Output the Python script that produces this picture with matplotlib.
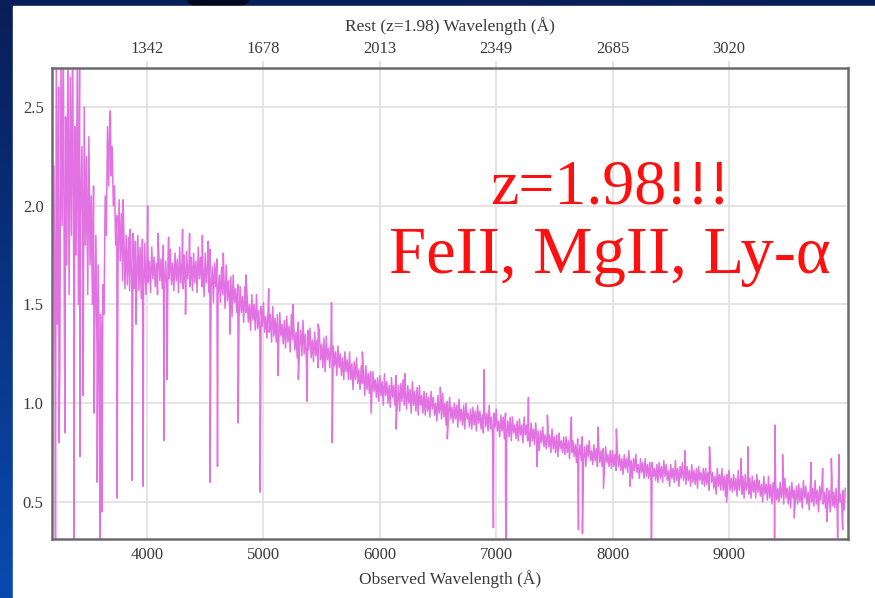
import numpy as np
import matplotlib
matplotlib.use("Agg")
import matplotlib.pyplot as plt
from matplotlib.patches import Rectangle, Ellipse

plt.rcParams["font.family"] = ["Liberation Serif", "DejaVu Serif"]

# ---- spectrum: observed wavelength (A) and flux, sampled every 10 A ----
# blue end (Ly-alpha forest)
wave_blue = np.arange(3200, 3620, 10)
flux_blue = np.array([
    2.20, 1.05, 2.85, 1.40, 2.60, 1.15, 2.75, 1.90, 2.95, 1.30, 2.45, 1.70, 2.80, 1.55,
    2.65, 1.85, 2.90, 1.60, 2.40, 1.75, 2.70, 1.50, 2.85, 1.95, 2.30, 1.65, 2.50, 1.80,
    2.25, 1.55, 2.35, 1.70, 2.05, 1.50, 2.10, 1.35, 1.85, 1.25, 1.70, 1.05, 1.45, 1.20,
])
# noise peaks: pixels at 3620, 3640, ... 10000
wave_peak = np.arange(3620, 10001, 20)
flux_peak = np.array([
    # 3620-3980
    1.60, 2.05, 2.40, 2.47, 2.30, 2.10, 1.95, 2.03, 1.96, 1.88, 1.85, 1.84, 1.80, 1.86, 1.82, 1.85, 1.79, 1.83, 1.81,
    # 4000-4380
    1.76, 1.72, 1.79, 1.74, 1.71, 1.77, 1.73, 1.80, 1.72, 1.75, 1.78, 1.71, 1.76, 1.73, 1.79, 1.72, 1.75, 1.77, 1.71, 1.74,
    # 4400-4780
    1.76, 1.72, 1.79, 1.74, 1.70, 1.76, 1.71, 1.78, 1.69, 1.71, 1.73, 1.65, 1.69, 1.65, 1.70, 1.62, 1.64, 1.65, 1.58, 1.60,
    # 4800-5180
    1.59, 1.54, 1.59, 1.54, 1.50, 1.55, 1.50, 1.55, 1.47, 1.49, 1.51, 1.44, 1.48, 1.45, 1.49, 1.43, 1.45, 1.46, 1.40, 1.42,
    # 5200-5580
    1.44, 1.39, 1.45, 1.40, 1.36, 1.41, 1.37, 1.42, 1.35, 1.37, 1.38, 1.32, 1.36, 1.32, 1.37, 1.30, 1.33, 1.34, 1.28, 1.30,
    # 5600-5980
    1.29, 1.26, 1.29, 1.25, 1.23, 1.26, 1.22, 1.26, 1.20, 1.21, 1.23, 1.17, 1.19, 1.16, 1.19, 1.15, 1.16, 1.16, 1.12, 1.13,
    # 6000-6380
    1.14, 1.11, 1.15, 1.11, 1.09, 1.13, 1.09, 1.14, 1.09, 1.10, 1.12, 1.07, 1.09, 1.07, 1.11, 1.06, 1.08, 1.09, 1.04, 1.06,
    # 6400-6780
    1.05, 1.03, 1.06, 1.03, 1.00, 1.04, 1.01, 1.05, 1.00, 1.01, 1.03, 0.98, 1.00, 0.99, 1.02, 0.97, 0.99, 1.00, 0.95, 0.97,
    # 6800-7180
    0.98, 0.96, 0.99, 0.96, 0.94, 0.97, 0.95, 0.99, 0.93, 0.95, 0.97, 0.91, 0.94, 0.93, 0.95, 0.91, 0.93, 0.93, 0.89, 0.91,
    # 7200-7580
    0.92, 0.89, 0.93, 0.89, 0.87, 0.90, 0.87, 0.90, 0.86, 0.86, 0.88, 0.84, 0.86, 0.84, 0.87, 0.83, 0.84, 0.85, 0.81, 0.83,
    # 7600-7980
    0.83, 0.81, 0.84, 0.81, 0.79, 0.82, 0.79, 0.83, 0.78, 0.79, 0.81, 0.76, 0.79, 0.77, 0.80, 0.76, 0.77, 0.78, 0.74, 0.76,
    # 8000-8380
    0.76, 0.74, 0.76, 0.74, 0.72, 0.74, 0.72, 0.76, 0.71, 0.72, 0.74, 0.69, 0.72, 0.70, 0.72, 0.69, 0.70, 0.70, 0.67, 0.69,
    # 8400-8780
    0.70, 0.68, 0.71, 0.69, 0.66, 0.69, 0.67, 0.71, 0.67, 0.68, 0.70, 0.66, 0.68, 0.66, 0.69, 0.66, 0.67, 0.68, 0.65, 0.67,
    # 8800-9180
    0.67, 0.65, 0.69, 0.65, 0.63, 0.67, 0.64, 0.67, 0.63, 0.64, 0.66, 0.62, 0.64, 0.62, 0.66, 0.62, 0.63, 0.64, 0.60, 0.62,
    # 9200-9580
    0.63, 0.61, 0.64, 0.61, 0.59, 0.63, 0.59, 0.63, 0.59, 0.60, 0.61, 0.57, 0.60, 0.58, 0.62, 0.57, 0.58, 0.60, 0.56, 0.58,
    # 9600-10000
    0.59, 0.57, 0.61, 0.58, 0.55, 0.59, 0.57, 0.61, 0.56, 0.58, 0.60, 0.55, 0.57, 0.56, 0.59, 0.55, 0.57, 0.58, 0.54, 0.56, 0.57,
])
# noise troughs: pixels at 3630, 3650, ... 9990
wave_trough = np.arange(3630, 10000, 20)
flux_trough = np.array([
    # 3630-3990
    1.45, 1.85, 2.10, 2.15, 2.00, 1.80, 1.68, 1.72, 1.62, 1.58, 1.60, 1.57, 1.55, 1.58, 1.54, 1.57, 1.53, 1.56, 1.55,
    # 4010-4390
    1.61, 1.56, 1.63, 1.59, 1.55, 1.62, 1.58, 1.60, 1.54, 1.63, 1.60, 1.57, 1.62, 1.56, 1.61, 1.58, 1.55, 1.63, 1.59, 1.57,
    # 4410-4790
    1.61, 1.56, 1.63, 1.59, 1.54, 1.61, 1.56, 1.58, 1.51, 1.59, 1.55, 1.51, 1.55, 1.48, 1.52, 1.48, 1.44, 1.51, 1.46, 1.43,
    # 4810-5190
    1.46, 1.41, 1.46, 1.41, 1.37, 1.42, 1.37, 1.38, 1.32, 1.39, 1.36, 1.33, 1.36, 1.31, 1.34, 1.31, 1.28, 1.34, 1.30, 1.28,
    # 5210-5590
    1.31, 1.26, 1.32, 1.27, 1.23, 1.29, 1.24, 1.25, 1.20, 1.27, 1.23, 1.21, 1.24, 1.18, 1.22, 1.18, 1.16, 1.22, 1.18, 1.16,
    # 5610-5990
    1.19, 1.14, 1.18, 1.14, 1.12, 1.16, 1.12, 1.12, 1.07, 1.12, 1.10, 1.07, 1.10, 1.04, 1.07, 1.05, 1.02, 1.06, 1.03, 1.01,
    # 6010-6390
    1.04, 0.99, 1.04, 1.00, 0.98, 1.03, 0.99, 1.00, 0.96, 1.01, 0.99, 0.97, 1.00, 0.95, 0.99, 0.96, 0.94, 0.99, 0.95, 0.94,
    # 6410-6790
    0.96, 0.93, 0.97, 0.94, 0.91, 0.95, 0.92, 0.93, 0.89, 0.94, 0.92, 0.90, 0.92, 0.88, 0.91, 0.89, 0.87, 0.92, 0.88, 0.87,
    # 6810-7190
    0.89, 0.86, 0.90, 0.87, 0.85, 0.88, 0.86, 0.87, 0.82, 0.88, 0.86, 0.83, 0.86, 0.82, 0.84, 0.83, 0.81, 0.85, 0.82, 0.81,
    # 7210-7590
    0.84, 0.80, 0.84, 0.81, 0.78, 0.81, 0.79, 0.79, 0.76, 0.80, 0.78, 0.77, 0.78, 0.75, 0.77, 0.75, 0.73, 0.77, 0.75, 0.74,
    # 7610-7990
    0.75, 0.72, 0.75, 0.73, 0.70, 0.73, 0.71, 0.72, 0.68, 0.73, 0.71, 0.69, 0.71, 0.68, 0.70, 0.68, 0.66, 0.70, 0.68, 0.67,
    # 8010-8390
    0.68, 0.66, 0.68, 0.66, 0.64, 0.67, 0.65, 0.66, 0.62, 0.66, 0.65, 0.62, 0.65, 0.62, 0.63, 0.62, 0.60, 0.63, 0.61, 0.60,
    # 8410-8790
    0.62, 0.60, 0.63, 0.61, 0.58, 0.62, 0.60, 0.61, 0.58, 0.62, 0.61, 0.59, 0.61, 0.58, 0.60, 0.59, 0.57, 0.61, 0.59, 0.58,
    # 8810-9190
    0.59, 0.56, 0.60, 0.57, 0.54, 0.58, 0.56, 0.56, 0.53, 0.58, 0.56, 0.55, 0.56, 0.53, 0.56, 0.54, 0.52, 0.56, 0.54, 0.52,
    # 9210-9590
    0.55, 0.52, 0.55, 0.53, 0.50, 0.54, 0.51, 0.52, 0.49, 0.54, 0.51, 0.50, 0.52, 0.49, 0.52, 0.49, 0.47, 0.52, 0.50, 0.49,
    # 9610-9990
    0.50, 0.47, 0.52, 0.49, 0.46, 0.50, 0.48, 0.49, 0.45, 0.51, 0.49, 0.47, 0.49, 0.45, 0.48, 0.47, 0.45, 0.50, 0.47, 0.46,
])

# narrow absorption features
dip_wave = [3213, 3243, 3295, 3372, 3424, 3450, 3545, 3572, 3598, 3612, 3742, 3871, 3905, 3966,
            4146, 4172, 4330, 4542, 4605, 4710, 4783, 4972, 5127, 5300, 5376, 5591, 5925, 6140,
            6580, 6976, 7080, 7087, 7350, 7707, 7741, 7922, 8150, 8334, 8980, 9392, 9560, 9840,
            9934, 9977]
dip_flux = [0.20, 0.80, 0.85, 0.20, 0.73, 1.04, 0.95, 0.60, 0.20, 0.45, 0.52, 0.61, 1.40, 0.58,
            0.81, 1.12, 1.45, 0.60, 0.68, 1.35, 0.90, 0.55, 1.14, 1.12, 1.01, 0.80, 0.95, 0.87,
            0.82, 0.37, 0.55, 0.20, 0.68, 0.36, 0.34, 0.57, 0.58, 0.20, 0.50, 0.20, 0.42, 0.40,
            0.32, 0.36]

# emission peaks and sky residual spikes
spike_wave = [3685, 3794, 3855, 4005, 4095, 4185, 4305, 4365, 4475, 4525, 4655, 4850, 5045,
              5255, 5470, 5585, 5850, 6215, 6520, 6895, 7277, 7440, 7646, 7875, 8033, 8620,
              8833, 9105, 9163, 9396, 9461, 9705, 9805, 9880, 9945]
spike_flux = [2.48, 2.03, 1.88, 2.00, 1.86, 1.84, 1.88, 1.86, 1.85, 1.82, 1.76, 1.65, 1.58,
              1.50, 1.40, 1.51, 1.26, 1.15, 1.08, 1.17, 1.03, 0.94, 0.93, 0.88, 0.87, 0.76,
              0.78, 0.72, 0.78, 0.89, 0.74, 0.70, 0.67, 0.72, 0.74]

# axis ticks
redshift = 1.98
obs_ticks = [4000, 5000, 6000, 7000, 8000, 9000]
rest_labels = ["1342", "1678", "2013", "2349", "2685", "3020"]
flux_ticks = [0.5, 1.0, 1.5, 2.0, 2.5]

wave = np.concatenate([wave_blue, wave_peak, wave_trough, dip_wave, spike_wave])
flux = np.concatenate([flux_blue, flux_peak, flux_trough, dip_flux, spike_flux])
order = np.argsort(wave, kind="stable")
wave, flux = wave[order], flux[order]

W, H = 875, 598
fig = plt.figure(figsize=(W / 100, H / 100), dpi=100)

# slide backdrop: blue gradient with a white content panel
bg = fig.add_axes([0, 0, 1, 1], zorder=-10)
t = np.linspace(0, 1, 256)[:, None, None]
top_c = np.array([8, 30, 88]) / 255
bot_c = np.array([10, 74, 176]) / 255
bg.imshow(top_c + (bot_c - top_c) * t, aspect="auto", extent=[0, 1, 0, 1], origin="upper")
bg.add_patch(Ellipse((218 / W, 1.0), 60 / W, 18 / H, color="#04081c"))
bg.add_patch(Rectangle((13 / W, 0), 1 - 13 / W, 1 - 6 / H, color="white"))
bg.set_xlim(0, 1)
bg.set_ylim(0, 1)
bg.axis("off")

ax = fig.add_axes([52 / W, 1 - 539 / H, (848 - 52) / W, (539 - 68) / H])
ax.plot(wave, flux, color="#e272e2", lw=1.1)
ax.set_xlim(3183, 10023)
ax.set_ylim(0.313, 2.697)
ax.set_xticks(obs_ticks)
ax.set_yticks(flux_ticks)
ax.set_yticklabels([f"{v:.1f}" for v in flux_ticks])
ax.grid(color="#e2e2e2", lw=1.3)
ax.set_axisbelow(True)
for s in ax.spines.values():
    s.set_color("#6b6b6b")
    s.set_linewidth(1.8)
ax.tick_params(length=0, labelsize=12, labelcolor="#3a3a3a", pad=6)
ax.set_xlabel("Observed Wavelength (Å)", fontsize=12.5, color="#3a3a3a", labelpad=5)

sec = ax.secondary_xaxis("top", functions=(lambda x: x / (1 + redshift), lambda x: x * (1 + redshift)))
sec.set_xticks([v / (1 + redshift) for v in obs_ticks])
sec.set_xticklabels(rest_labels)
sec.tick_params(length=5, width=1.3, color="#e2e2e2", labelsize=12, labelcolor="#3a3a3a", pad=3)
sec.spines["top"].set_visible(False)
sec.set_xlabel("Rest (z=1.98) Wavelength (Å)", fontsize=12.5, color="#3a3a3a", labelpad=7)

fig.text(610 / W, 1 - 204 / H, "z=1.98!!!", color="#ff1010", fontsize=46,
         ha="center", va="baseline")
fig.text(610 / W, 1 - 273 / H, "FeII, MgII, Ly-α", color="#ff1010", fontsize=48,
         ha="center", va="baseline")

fig.savefig("out.png", dpi=100)
